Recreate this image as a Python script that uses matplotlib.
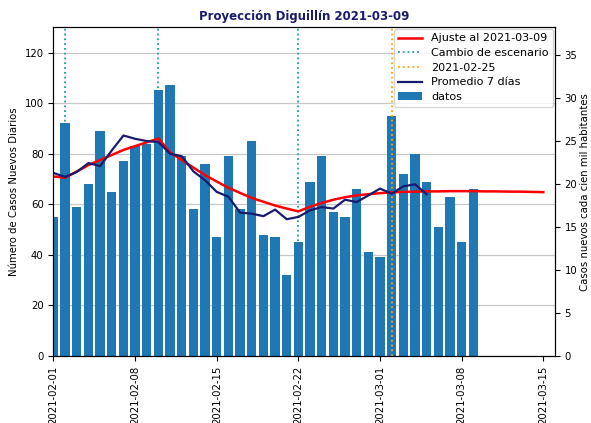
import numpy as np
import matplotlib
matplotlib.use("Agg")
import matplotlib.pyplot as plt
import matplotlib.dates as mdates

# daily new cases, 2021-02-01 .. 2021-03-09
bar_dates = np.arange("2021-02-01", "2021-03-10", dtype="datetime64[D]")
casos = [55, 92, 59, 68, 89, 65, 77, 83, 84, 105, 107, 79, 58, 76, 47, 79, 58, 85,
         48, 47, 32, 45, 69, 79, 57, 55, 66, 41, 39, 95, 72, 80, 69, 51, 63, 45, 66]

# 7 day average, 2021-02-01 .. 2021-03-05
prom_dates = np.arange("2021-02-01", "2021-03-06", dtype="datetime64[D]")
promedio = [72.4, 70.8, 72.8, 76.3, 75.1, 81.3, 87.2, 85.9, 85.0, 84.6, 80.0, 79.0,
            73.0, 69.5, 64.9, 63.0, 56.7, 56.3, 55.3, 57.9, 54.1, 55.0, 57.6, 58.9,
            58.3, 61.8, 60.9, 63.5, 66.2, 64.2, 67.1, 67.9, 64.0]

# fitted curve, 2021-02-01 .. 2021-03-15
ajuste_dates = np.arange("2021-02-01", "2021-03-16", dtype="datetime64[D]")
ajuste = [71.0, 70.5, 73.0, 75.5, 77.5, 79.5, 81.5, 83.0, 84.5, 86.0, 80.5, 77.5,
          74.5, 71.5, 69.0, 66.5, 64.5, 62.5, 61.0, 59.5, 58.3, 57.2, 59.0, 60.5,
          61.8, 62.8, 63.5, 64.0, 64.4, 64.7, 64.9, 65.0, 65.1, 65.1, 65.2, 65.2,
          65.2, 65.1, 65.1, 65.0, 65.0, 64.9, 64.8]

cambios = np.array(["2021-02-02", "2021-02-10", "2021-02-22"], dtype="datetime64[D]")
fecha_corte = np.datetime64("2021-03-02")
fecha_corte_label = "2021-02-25"
tick_dates = np.arange("2021-02-01", "2021-03-16", 7, dtype="datetime64[D]")

poblacion = 340000
ymax = 130

fig = plt.figure(figsize=(5.91, 4.23), dpi=100)
ax1 = fig.add_axes([0.0905, 0.1584, 0.8485, 0.7771])
ax2 = ax1.twinx()

ax1.plot(ajuste_dates, ajuste, color="red", lw=1.8, label="Ajuste al 2021-03-09", zorder=3)
for i, c in enumerate(cambios):
    ax1.axvline(c, color="#1f9e9e", ls=":", lw=1.3, zorder=0.9,
                label="Cambio de escenario" if i == 0 else None)
ax1.axvline(fecha_corte, color="orange", ls=":", lw=1.3, zorder=2.5, label=fecha_corte_label)
ax1.plot(prom_dates, promedio, color="#1a1a6e", lw=1.6, label="Promedio 7 días", zorder=3)
ax1.bar(bar_dates, casos, width=0.8, color="#1f77b4", label="datos", zorder=1)

ax1.set_axisbelow(True)
ax1.grid(axis="y", color="#c8c8c8", lw=0.9)
ax1.set_ylim(0, ymax)
ax1.set_xlim(np.datetime64("2021-02-01"), np.datetime64("2021-03-16"))
ax1.set_xticks(tick_dates)
ax1.xaxis.set_major_formatter(mdates.DateFormatter("%Y-%m-%d"))
ax1.tick_params(axis="x", rotation=90, labelsize=7.3)
ax1.tick_params(axis="y", labelsize=7.3)
ax1.set_ylabel("Número de Casos Nuevos Diarios", fontsize=7.3)

ax2.set_ylim(0, ymax * 1e5 / poblacion)
ax2.set_yticks(range(0, 40, 5))
ax2.tick_params(axis="y", labelsize=7.3)
ax2.set_ylabel("Casos nuevos cada cien mil habitantes", fontsize=7.3, labelpad=2)

ax1.set_title("Proyección Diguillín 2021-03-09", fontsize=8.5, fontweight="bold",
              color="#1a1a6e", pad=5)
ax1.legend(loc="upper right", fontsize=8, borderaxespad=0.15, handlelength=2.2,
           labelspacing=0.42)

fig.savefig("out.png", dpi=100)
